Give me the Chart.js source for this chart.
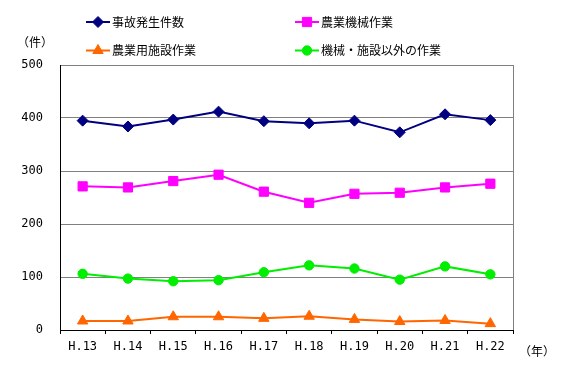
<!DOCTYPE html>
<html><head><meta charset="utf-8">
<script src="https://cdn.jsdelivr.net/npm/chart.js@4/dist/chart.umd.min.js"></script>
<style>html,body{margin:0;padding:0;background:#fff}canvas{display:block}</style>
</head><body>
<canvas id="c" width="569" height="380"></canvas>
<script>
const categories = ['H.13','H.14','H.15','H.16','H.17','H.18','H.19','H.20','H.21','H.22'];
const totalAccidents = [395, 384, 397, 412, 394, 390, 395, 373, 407, 396];
const machineWork = [271, 269, 281, 293, 261, 240, 257, 259, 269, 276];
const facilityWork = [17, 17, 25, 25, 22, 26, 20, 16, 18, 12];
const otherWork = [106, 97, 92, 94, 109, 122, 116, 95, 120, 105];
const seriesNames = ['事故発生件数', '農業機械作業', '農業用施設作業', '機械・施設以外の作業'];
const yTicks = [0, 100, 200, 300, 400, 500];

const monoFont = '"DejaVu Sans Mono", "Noto Sans CJK JP", monospace';
const jpFont = '"Noto Sans CJK JP", sans-serif';

function ds(label, data, color, style, radius) {
  return {
    label, data,
    borderColor: color, backgroundColor: color,
    borderWidth: 2,
    pointStyle: style, pointRadius: radius, pointHoverRadius: radius,
    pointBorderWidth: 1, pointBorderColor: color, pointBackgroundColor: color,
    tension: 0
  };
}

const extras = {
  id: 'extras',
  afterDraw(chart) {
    const ctx = chart.ctx;
    const a = chart.chartArea;
    ctx.save();
    // right border
    ctx.strokeStyle = '#808080';
    ctx.lineWidth = 1;
    ctx.beginPath();
    ctx.moveTo(Math.round(a.right) + 0.5, a.top);
    ctx.lineTo(Math.round(a.right) + 0.5, a.bottom);
    ctx.stroke();
    // unit labels
    ctx.fillStyle = '#000';
    ctx.font = '12px ' + jpFont;
    ctx.textAlign = 'center';
    ctx.textBaseline = 'middle';
    ctx.fillText('（件）', 35, 42);
    ctx.fillText('（年）', 537, 351);
    // legend
    const pos = [[86, 22], [295, 22], [86, 50.5], [295, 50.5]];
    chart.data.datasets.forEach((d, i) => {
      const [x, y] = pos[i];
      ctx.strokeStyle = d.borderColor;
      ctx.lineWidth = 2;
      ctx.beginPath();
      ctx.moveTo(x, y);
      ctx.lineTo(x + 24, y);
      ctx.stroke();
      ctx.fillStyle = d.backgroundColor;
      ctx.lineWidth = 1;
      Chart.helpers.drawPoint(ctx, {pointStyle: d.pointStyle, radius: d.pointRadius, borderWidth: 1}, x + 12, y);
      ctx.fillStyle = '#000';
      ctx.font = '12px ' + jpFont;
      ctx.textAlign = 'left';
      ctx.textBaseline = 'middle';
      ctx.fillText(d.label, x + 26, y);
    });
    ctx.restore();
  }
};

new Chart(document.getElementById('c'), {
  type: 'line',
  data: {
    labels: categories,
    datasets: [
      ds(seriesNames[0], totalAccidents, '#000080', 'rectRot', 5.5),
      ds(seriesNames[1], machineWork, '#FF00FF', 'rect', 6.5),
      ds(seriesNames[2], facilityWork, '#FF6600', 'triangle', 6),
      ds(seriesNames[3], otherWork, '#00EE00', 'circle', 4.7)
    ]
  },
  options: {
    responsive: false,
    animation: false,
    events: [],
    layout: { padding: { left: 0, right: 56, top: 65, bottom: 0 } },
    plugins: { legend: { display: false }, tooltip: { enabled: false } },
    scales: {
      x: {
        offset: true,
        grid: { display: true, drawOnChartArea: false, drawTicks: true, tickLength: 4, color: '#000', offset: true },
        border: { color: '#000', width: 1 },
        ticks: { color: '#000', font: { family: monoFont, size: 12 }, padding: 6, maxRotation: 0, autoSkip: false },
        afterFit(s) { s.height = 50; }
      },
      y: {
        min: 0, max: 500,
        afterBuildTicks(s) { s.ticks = yTicks.map(v => ({ value: v })); },
        grid: { color: '#808080', drawTicks: false, lineWidth: 1 },
        border: { color: '#000', width: 1 },
        ticks: { color: '#000', font: { family: monoFont, size: 12 }, padding: 17 },
        afterFit(s) { s.width = 60; }
      }
    }
  },
  plugins: [extras]
});
</script>
</body></html>
